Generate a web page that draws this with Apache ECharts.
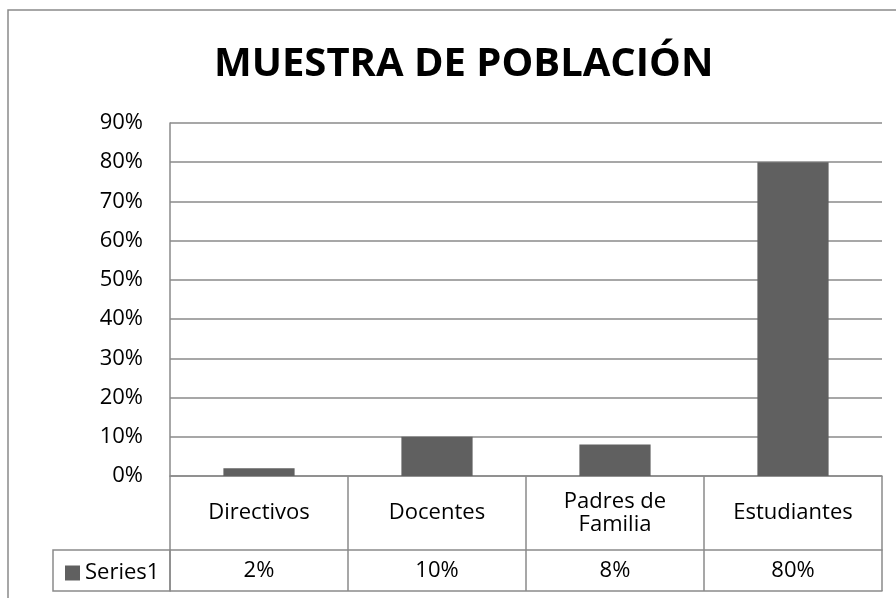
<!DOCTYPE html>
<html>
<head>
<meta charset="utf-8">
<script src="https://cdn.jsdelivr.net/npm/echarts@6/dist/echarts.min.js"></script>
<style>
  html, body { margin: 0; padding: 0; background: #fff; }
  #chart { width: 896px; height: 598px; }
</style>
</head>
<body>
<div id="chart"></div>
<script>
const categories = ['Directivos', 'Docentes', 'Padres de Familia', 'Estudiantes']
const seriesName = 'Series1'
const values = [0.02, 0.10, 0.08, 0.80]
const yTicks = { min: 0, max: 0.9, interval: 0.1 }

const pct = (v) => Math.round(v * 100) + '%'
const lineColor = '#8a8a8a'
const font = 'Open Sans'
const labelSize = 22

const instance = echarts.init(document.getElementById('chart'))

const options = {
  animation: false,
  textStyle: { fontFamily: font },
  title: {
    text: 'MUESTRA DE POBLACIÓN',
    left: 209,
    top: 40,
    textStyle: { fontSize: 40, fontWeight: 'bold', color: '#000', fontFamily: font },
  },
  legend: {
    data: [seriesName],
    left: 60,
    top: 557,
    icon: 'rect',
    itemWidth: 15,
    itemHeight: 15,
    itemGap: 6,
    textStyle: { fontSize: labelSize, color: '#000' },
  },
  grid: {
    left: 170,
    right: 14,
    top: 123,
    bottom: 122,
  },
  xAxis: [
    {
      // fila de categorías
      type: 'category',
      data: categories,
      position: 'bottom',
      axisLine: { show: true, lineStyle: { color: lineColor, width: 1.5 } },
      axisTick: { show: true, interval: 0, length: 115, lineStyle: { color: lineColor, width: 1.5 } },
      axisLabel: {
        interval: 0,
        margin: 37,
        verticalAlign: 'middle',
        fontSize: labelSize,
        lineHeight: 23,
        color: '#000',
        formatter: (v) => v.replace('de ', 'de\n'),
      },
    },
    {
      // fila de valores (tabla de datos)
      type: 'category',
      data: categories,
      position: 'bottom',
      offset: 74,
      axisLine: { show: true, lineStyle: { color: lineColor, width: 1.5 } },
      axisTick: { show: false },
      axisLabel: {
        interval: 0,
        margin: 21,
        verticalAlign: 'middle',
        fontSize: labelSize,
        color: '#000',
        formatter: (v, i) => pct(values[i]),
      },
    },
    {
      // borde inferior de la tabla
      type: 'category',
      data: categories,
      position: 'bottom',
      offset: 115,
      axisLine: { show: true, lineStyle: { color: lineColor, width: 1.5 } },
      axisTick: { show: false },
      axisLabel: { show: false },
    },
  ],
  yAxis: {
    type: 'value',
    min: yTicks.min,
    max: yTicks.max,
    interval: yTicks.interval,
    axisLine: { show: true, lineStyle: { color: lineColor, width: 1.5 } },
    axisTick: { show: false },
    splitLine: { show: true, lineStyle: { color: lineColor, width: 1.5 } },
    axisLabel: {
      margin: 27,
      fontSize: labelSize,
      color: '#000',
      formatter: (v) => pct(v),
    },
  },
  series: [
    {
      name: seriesName,
      type: 'bar',
      xAxisIndex: 0,
      data: values,
      barWidth: '40%',
      itemStyle: { color: '#606060' },
    },
  ],
  graphic: [
    {
      // borde exterior del gráfico
      type: 'rect',
      shape: { x: 8, y: 10, width: 1000, height: 1000 },
      style: { fill: 'none', stroke: lineColor, lineWidth: 1.5 },
      silent: true,
    },
    {
      // celda de leyenda de la tabla
      type: 'rect',
      shape: { x: 53, y: 550, width: 117, height: 41 },
      style: { fill: 'none', stroke: lineColor, lineWidth: 1.5 },
      silent: true,
    },
  ],
}

instance.setOption(options)
</script>
</body>
</html>
